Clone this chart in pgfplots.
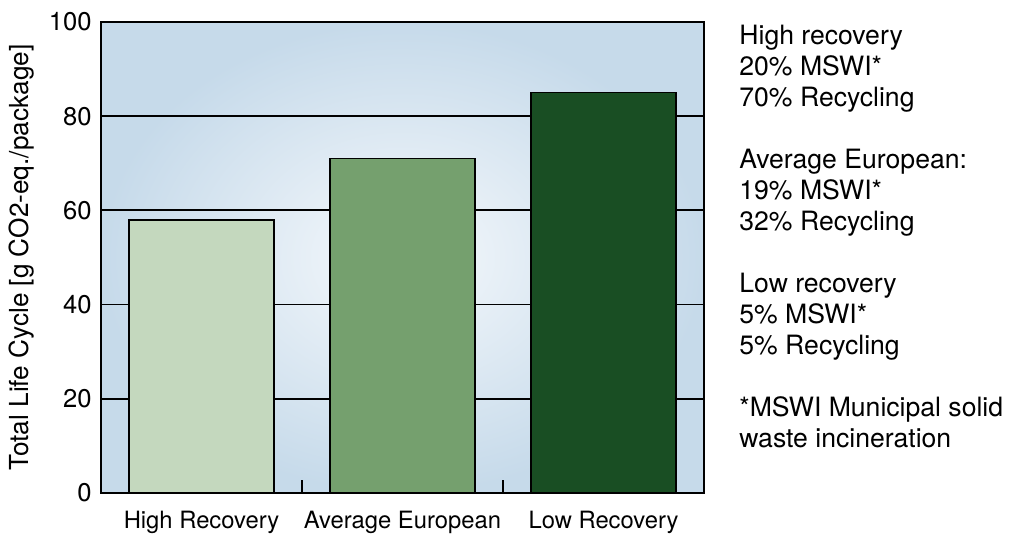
\documentclass[border=0pt]{standalone}
\usepackage{pgfplots}
\pgfplotsset{compat=1.18}
\usepackage{fontspec}
\setmainfont{TeX Gyre Heros}
\definecolor{barA}{RGB}{196,216,190}
\definecolor{barB}{RGB}{117,160,110}
\definecolor{barC}{RGB}{25,78,35}
\definecolor{bgout}{RGB}{198,218,234}
\definecolor{bgin}{RGB}{246,249,252}
\begin{document}
\begin{tikzpicture}[font=\fontsize{11.9}{14}\selectfont]
\useasboundingbox (-50.5pt,-20.5pt) rectangle (454.5pt,246.5pt);
\begin{axis}[
  at={(0,0)}, anchor=south west,
  scale only axis, width=301.5pt, height=235.5pt,
  xmin=-0.5, xmax=2.5, ymin=0, ymax=100,
  ytick={0,20,...,100},
  xtick={0,1,2},
  xticklabels={High Recovery, Average European, Low Recovery},
  minor xtick={0.5,1.5},
  xtick pos=left, ytick pos=left,
  tick align=inside,
  major tick length=0pt, minor tick length=6.5pt,
  every tick/.style={black, line width=0.8pt},
  ymajorgrids, major grid style={black, line width=0.9pt},
  axis line style={line width=0.8pt},
  axis background/.style={shade, shading=radial, inner color=bgin, outer color=bgout},
  xticklabel style={anchor=base, yshift=-17.6pt},
  yticklabel style={xshift=-1.2pt, font=\fontsize{12.8}{14}\selectfont},
  /pgf/number format/assume math mode=true,
]
\addplot[ybar, bar width=0.72, bar shift=0pt, fill=barA, draw=black, line width=0.8pt] coordinates {(0,58)};
\addplot[ybar, bar width=0.72, bar shift=0pt, fill=barB, draw=black, line width=0.8pt] coordinates {(1,71)};
\addplot[ybar, bar width=0.72, bar shift=0pt, fill=barC, draw=black, line width=0.8pt] coordinates {(2,85)};
\end{axis}
\node[rotate=90, font=\fontsize{13.1}{15}\selectfont] at (-39.5pt,117.75pt) {Total Life Cycle [g CO2-eq./package]};
\begin{scope}[font=\fontsize{13.3}{15}\selectfont]
\foreach \yy/\tt in {224/High recovery, 208.5/20\% MSWI*, 193/70\% Recycling,
  162/Average European:, 146.5/19\% MSWI*, 131/32\% Recycling,
  100/Low recovery, 84.5/5\% MSWI*, 69/5\% Recycling,
  38/*MSWI Municipal solid, 22.5/waste incineration}
  \node[anchor=base west, inner sep=0pt] at (319pt,\yy pt) {\tt};
\end{scope}
\end{tikzpicture}
\end{document}
